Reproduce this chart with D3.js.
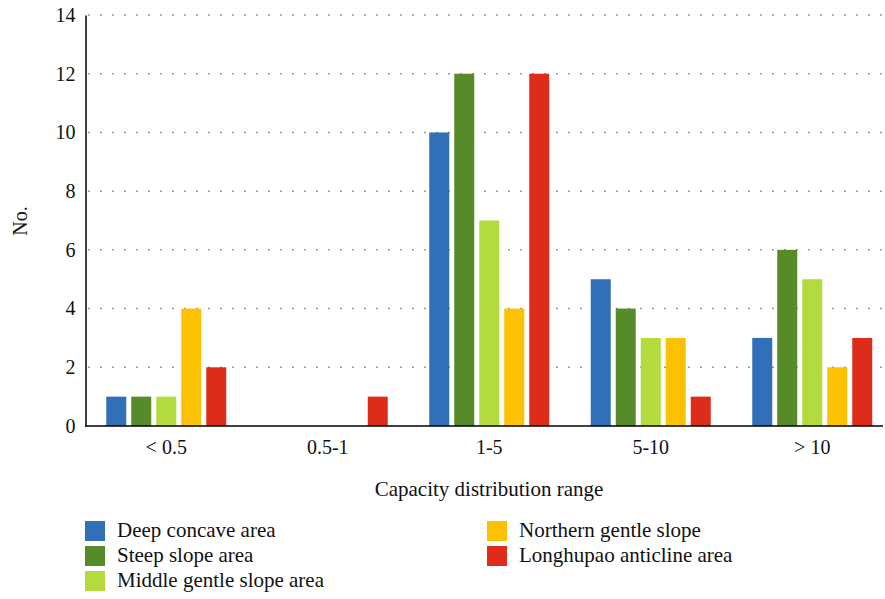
<!DOCTYPE html>
<html><head><meta charset="utf-8">
<script src="https://cdn.jsdelivr.net/npm/d3@7"></script>
<style>body{margin:0;background:#fff}svg text{font-family:'Liberation Serif',Tinos,'Times New Roman',serif !important;fill:#111}</style>
</head><body><svg id="c" width="885" height="599" font-family="Liberation Serif"></svg>
<script>
const categories = ["< 0.5", "0.5-1", "1-5", "5-10", "> 10"];
const seriesNames = ["Deep concave area", "Steep slope area", "Middle gentle slope area", "Northern gentle slope", "Longhupao anticline area"];
const deepConcave = [1, 0, 10, 5, 3];
const steepSlope = [1, 0, 12, 4, 6];
const middleGentle = [1, 0, 7, 3, 5];
const northernGentle = [4, 0, 4, 3, 2];
const longhupao = [2, 1, 12, 1, 3];
const colors = ["#3170b8", "#578a28", "#b3db3e", "#fbc102", "#dd2c1a"];
const yTicks = [0, 2, 4, 6, 8, 10, 12, 14];
const series = [deepConcave, steepSlope, middleGentle, northernGentle, longhupao];

const svg = d3.select("#c");
const x0 = d3.scaleBand().domain(categories).range([85.5, 893]);
const x1 = d3.scaleBand().domain(d3.range(5)).range([-60, 60]).paddingInner(0.2);
const y = d3.scaleLinear().domain([0, 14]).range([426, 15]);

// grid
svg.append("g").selectAll("line").data(yTicks.filter(d => d > 0)).join("line")
  .attr("x1", 88).attr("x2", 883).attr("y1", d => y(d)).attr("y2", d => y(d))
  .attr("stroke", "#999").attr("stroke-width", 1.5).attr("stroke-dasharray", "2,10");

// bars
categories.forEach((c, i) => {
  const cx = x0(c) + x0.bandwidth() / 2;
  series.forEach((s, j) => {
    if (s[i] <= 0) return;
    svg.append("rect").attr("x", cx + x1(j)).attr("width", x1.bandwidth())
      .attr("y", y(s[i])).attr("height", y(0) - y(s[i])).attr("fill", colors[j]);
  });
});

// axes
const ya = svg.append("g").attr("transform", "translate(85.5,0)")
  .call(d3.axisLeft(y).tickValues(yTicks).tickSize(0).tickPadding(10));
ya.attr("font-family", null);
ya.select(".domain").attr("stroke", "#000").attr("stroke-width", 1.5);
ya.selectAll("text").style("font-size", "20px");

const xa = svg.append("g").attr("transform", "translate(0,426)")
  .call(d3.axisBottom(x0).tickSize(0).tickPadding(14));
xa.attr("font-family", null);
xa.select(".domain").remove();
xa.selectAll("text").style("font-size", "20px");
svg.append("line").attr("x1", 85).attr("x2", 883).attr("y1", 426).attr("y2", 426)
  .attr("stroke", "#000").attr("stroke-width", 1.5);

svg.append("text").attr("x", 489).attr("y", 496).attr("text-anchor", "middle")
  .style("font-size", "21px").text("Capacity distribution range");
svg.append("text").attr("transform", "translate(27,221) rotate(-90)").attr("text-anchor", "middle")
  .style("font-size", "20px").text("No.");

// legend
const lx = [85, 487], ly = [521, 546, 571];
seriesNames.forEach((n, i) => {
  const col = i < 3 ? 0 : 1, row = i < 3 ? i : i - 3;
  svg.append("rect").attr("x", lx[col]).attr("y", ly[row]).attr("width", 20).attr("height", 20).attr("fill", colors[i]);
  svg.append("text").attr("x", lx[col] + 32).attr("y", ly[row] + 16).style("font-size", "21px").text(n);
});
</script></body></html>
